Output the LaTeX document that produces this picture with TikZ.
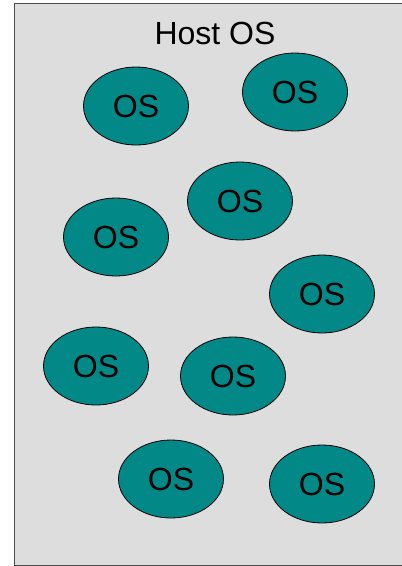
\documentclass[tikz,border=0pt]{standalone}
\usepackage{fontspec}
\setmainfont{Liberation Sans}
\usetikzlibrary{shapes.geometric}
\definecolor{hostgray}{HTML}{DDDDDD}
\definecolor{guestteal}{HTML}{038888}

\begin{document}
\begin{tikzpicture}[
x=1pt, y=-1pt,
font=\fontsize{32}{36}\selectfont,
host/.style={draw=black!70, line width=1pt, fill=hostgray},
guest/.style={ellipse, draw, line width=0.8pt, fill=guestteal, minimum width=105pt, minimum height=78pt, inner sep=0pt}
]
\useasboundingbox (0,0) rectangle (402,566);
\clip (0,0) rectangle (402,566);
\draw[host] (14.5,3.5) rectangle (406,565);
\node (hosttitle) at (215,33) {Host OS};
\node[guest] (g1) at (136,106) {OS};
\node[guest] (g2) at (295,92) {OS};
\node[guest] (g3) at (240,201) {OS};
\node[guest] (g4) at (116,237) {OS};
\node[guest] (g5) at (322,294) {OS};
\node[guest] (g6) at (96,366) {OS};
\node[guest] (g7) at (233,376) {OS};
\node[guest] (g8) at (171,479) {OS};
\node[guest] (g9) at (322,484) {OS};
\end{tikzpicture}
\end{document}
